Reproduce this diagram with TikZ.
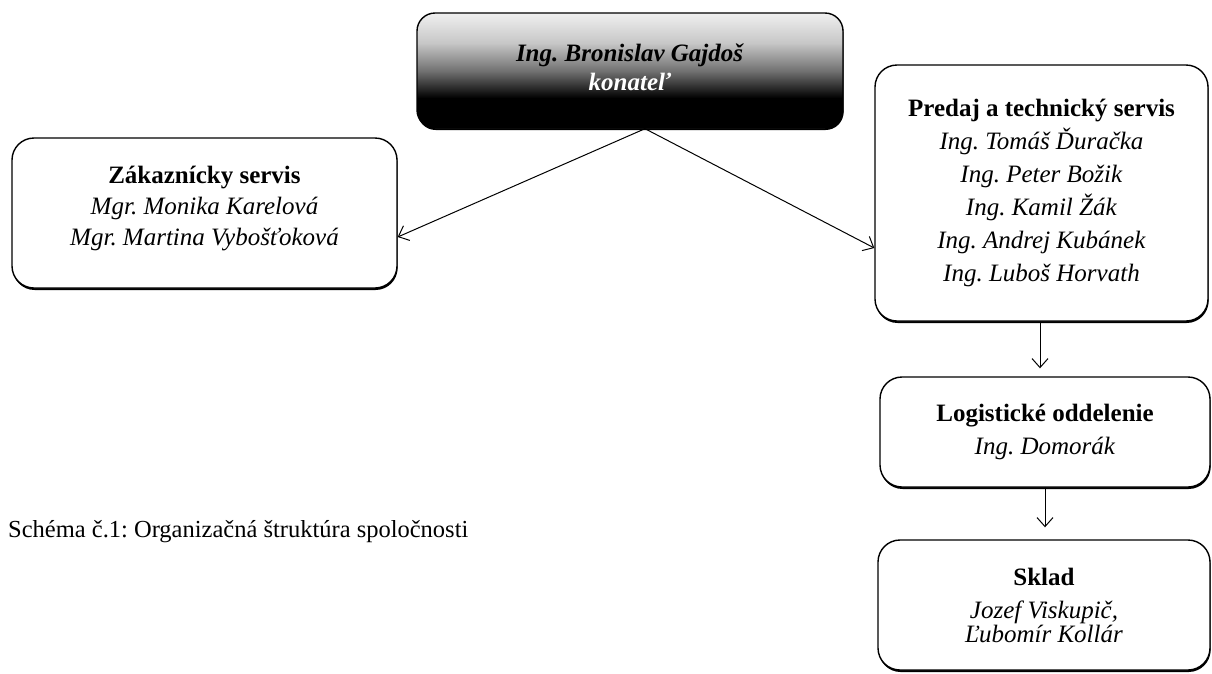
\documentclass[tikz,border=0pt]{standalone}
\usepackage{fontspec}
\setmainfont{Liberation Serif}
\usetikzlibrary{arrows.meta,shadows}
\frenchspacing

\pgfdeclareverticalshading{bossfade}{100bp}{color(0bp)=(black); color(25bp)=(black); color(38bp)=(black); color(50bp)=(black!55); color(62bp)=(black!22); color(75bp)=(black!6); color(100bp)=(black!6)}

\tikzset{
  unit/.style={draw, fill=white, line width=1.4pt, rounded corners=22pt, align=center, inner sep=0pt,
    font=\fontsize{25}{33}\selectfont,
    drop shadow={shadow xshift=0.6pt, shadow yshift=-2pt, opacity=1, fill=black}},
  boss/.style={unit, shading=bossfade, rounded corners=18pt},
  link/.style={line width=1pt, -{Straight Barb[length=9pt, width=16pt]}},
  caption/.style={anchor=west, inner sep=0pt, font=\fontsize{24.5}{29}\selectfont}
}

\begin{document}
\begin{tikzpicture}[x=1pt, y=-1pt]
\useasboundingbox (0,0) rectangle (1212,673);

\node[boss, minimum width=426pt, minimum height=115pt] (gajdos) at (630,70.5)
  {\textbf{\textit{Ing. Bronislav Gajdoš}}\\[-4pt]\textcolor{white}{\textbf{\textit{konateľ}}}\\[-26pt]};

\node[unit, minimum width=385pt, minimum height=150pt] (zakaznicky) at (204.5,213)
  {\textbf{Zákaznícky servis}\\[-2pt]\textit{Mgr. Monika Karelová}\\[-2pt]\textit{Mgr. Martina Vybošťoková}\\[-19pt]};

\node[unit, minimum width=333pt, minimum height=256pt] (predaj) at (1041.5,193)
  {\textbf{Predaj a technický servis}\\\textit{Ing. Tomáš Ďuračka}\\\textit{Ing. Peter Božik}\\
   \textit{Ing. Kamil Žák}\\\textit{Ing. Andrej Kubánek}\\\textit{Ing. Luboš Horvath}};

\node[unit, minimum width=330pt, minimum height=110pt] (logistika) at (1045,432)
  {\textbf{Logistické oddelenie}\\\textit{Ing. Domorák}};

\node[unit, minimum width=332pt, minimum height=130pt] (sklad) at (1044,605)
  {\textbf{Sklad}\\\textit{Jozef Viskupič,}\\[-9pt]\textit{Ľubomír Kollár}};

\node[caption] (schema) at (8,532) {Schéma č.1: Organizačná štruktúra spoločnosti};

\draw[link] ([xshift=15pt]gajdos.south) -- ([yshift=-24pt]zakaznicky.east);
\draw[link] ([xshift=15pt]gajdos.south) -- ([yshift=-55pt]predaj.west);
\draw[link, shorten >=8pt] ([xshift=-1.5pt]predaj.south) -- ([xshift=-1.5pt]predaj.south |- logistika.north);
\draw[link, shorten >=12pt] (logistika.south) -- (logistika.south |- sklad.north);
\end{tikzpicture}
\end{document}
